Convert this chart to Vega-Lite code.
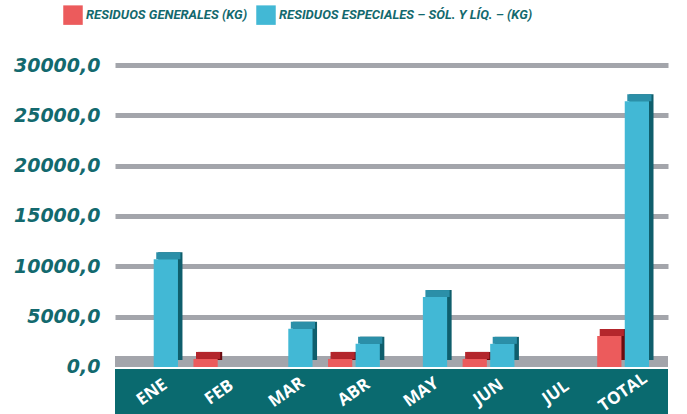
{
  "$schema": "https://vega.github.io/schema/vega-lite/v6.json",
  "width": 553,
  "height": 349,
  "autosize": {"type": "none"},
  "padding": {"left": 115, "top": 65, "right": 19, "bottom": 0},
  "background": "white",
  "config": {"view": {"stroke": null}},
  "data": {
    "values": [
      {"mes": "ENE", "serie": "RESIDUOS ESPECIALES – SÓL. Y LÍQ. – (KG)", "valor": 10700},
      {"mes": "FEB", "serie": "RESIDUOS GENERALES (KG)", "valor": 800},
      {"mes": "MAR", "serie": "RESIDUOS ESPECIALES – SÓL. Y LÍQ. – (KG)", "valor": 3800},
      {"mes": "ABR", "serie": "RESIDUOS GENERALES (KG)", "valor": 800},
      {"mes": "ABR", "serie": "RESIDUOS ESPECIALES – SÓL. Y LÍQ. – (KG)", "valor": 2300},
      {"mes": "MAY", "serie": "RESIDUOS ESPECIALES – SÓL. Y LÍQ. – (KG)", "valor": 6950},
      {"mes": "JUN", "serie": "RESIDUOS GENERALES (KG)", "valor": 800},
      {"mes": "JUN", "serie": "RESIDUOS ESPECIALES – SÓL. Y LÍQ. – (KG)", "valor": 2300},
      {"mes": "TOTAL", "serie": "RESIDUOS GENERALES (KG)", "valor": 3080},
      {"mes": "TOTAL", "serie": "RESIDUOS ESPECIALES – SÓL. Y LÍQ. – (KG)", "valor": 26400}
    ]
  },
  "encoding": {
    "x": {
      "field": "mes", "type": "nominal", "sort": null,
      "scale": {"domain": ["ENE", "FEB", "MAR", "ABR", "MAY", "JUN", "JUL", "TOTAL"], "paddingInner": 0.23, "paddingOuter": 0.224, "align": 0.37},
      "axis": {"title": null, "domain": false, "ticks": false, "labelAngle": -35, "labelAlign": "center", "labelBaseline": "middle", "labelPadding": -22, "labelColor": "white", "labelFont": "Open Sans", "labelFontWeight": "bold", "labelFontSize": 17, "labelOverlap": false, "labelBound": false, "zindex": 2}
    },
    "y": {
      "field": "valor", "type": "quantitative",
      "scale": {"domain": [-4669, 30000], "nice": false, "zero": false},
      "axis": {
        "title": null, "values": [0, 5000, 10000, 15000, 20000, 25000, 30000],
        "domain": false, "ticks": false, "labelPadding": 15,
        "labelExpr": "replace(format(datum.value, '.1f'), '.', ',')",
        "labelColor": "#13696e", "labelFont": "DejaVu Sans", "labelFontWeight": "bold", "labelFontStyle": "italic", "labelFontSize": 19,
        "gridColor": "#a3a5ab", "gridWidth": 5,
        "gridOpacity": {"condition": {"test": "datum.value === 0", "value": 0}, "value": 1}
      }
    }
  },
  "layer": [
    {
      "mark": {"type": "rect", "color": "#0a6a6f"},
      "encoding": {"x": null, "y": {"datum": -4669, "type": "quantitative"}, "y2": {"datum": -249}}
    },
    {
      "mark": {"type": "rect", "color": "#a3a5ab"},
      "encoding": {"x": null, "y": {"datum": 0, "type": "quantitative"}, "y2": {"datum": 1093}}
    },
    {
      "mark": {"type": "bar", "yOffset": -7},
      "encoding": {
        "xOffset": {"field": "serie", "type": "nominal", "scale": {"domain": ["RESIDUOS GENERALES (KG)", "RESIDUOS ESPECIALES – SÓL. Y LÍQ. – (KG)"], "paddingInner": 0.12, "range": [4.5, 56.31]}},
        "color": {"field": "serie", "type": "nominal", "scale": {"domain": ["RESIDUOS GENERALES (KG)", "RESIDUOS ESPECIALES – SÓL. Y LÍQ. – (KG)"], "range": ["#6a0b10", "#0f5e6c"]}, "legend": null}
      }
    },
    {
      "mark": {"type": "tick", "yOffset": -3.5, "thickness": 7, "size": 24.2, "opacity": 1},
      "encoding": {
        "xOffset": {"field": "serie", "type": "nominal", "scale": {"domain": ["RESIDUOS GENERALES (KG)", "RESIDUOS ESPECIALES – SÓL. Y LÍQ. – (KG)"], "paddingInner": 0.12, "range": [2.5, 54.31]}},
        "color": {"field": "serie", "type": "nominal", "scale": {"domain": ["RESIDUOS GENERALES (KG)", "RESIDUOS ESPECIALES – SÓL. Y LÍQ. – (KG)"], "range": ["#b3262c", "#2b8fa8"]}, "legend": null}
      }
    },
    {
      "mark": {"type": "bar"},
      "encoding": {
        "xOffset": {"field": "serie", "type": "nominal", "scale": {"domain": ["RESIDUOS GENERALES (KG)", "RESIDUOS ESPECIALES – SÓL. Y LÍQ. – (KG)"], "paddingInner": 0.12, "range": [0, 51.81]}},
        "color": {
          "field": "serie", "type": "nominal",
          "scale": {"domain": ["RESIDUOS GENERALES (KG)", "RESIDUOS ESPECIALES – SÓL. Y LÍQ. – (KG)"], "range": ["#ec5b5c", "#42b8d5"]},
          "legend": {"title": null, "orient": "none", "legendX": -52, "legendY": -60, "direction": "horizontal", "symbolType": "square", "symbolSize": 380, "symbolStrokeWidth": 0, "labelFont": "Roboto", "labelFontWeight": "bold", "labelFontStyle": "italic", "labelFontSize": 13, "labelColor": "#13696e", "labelOffset": 3, "columnPadding": 8, "labelLimit": 400}
        }
      }
    }
  ],
  "resolve": {"scale": {"color": "independent", "xOffset": "independent"}}
}
